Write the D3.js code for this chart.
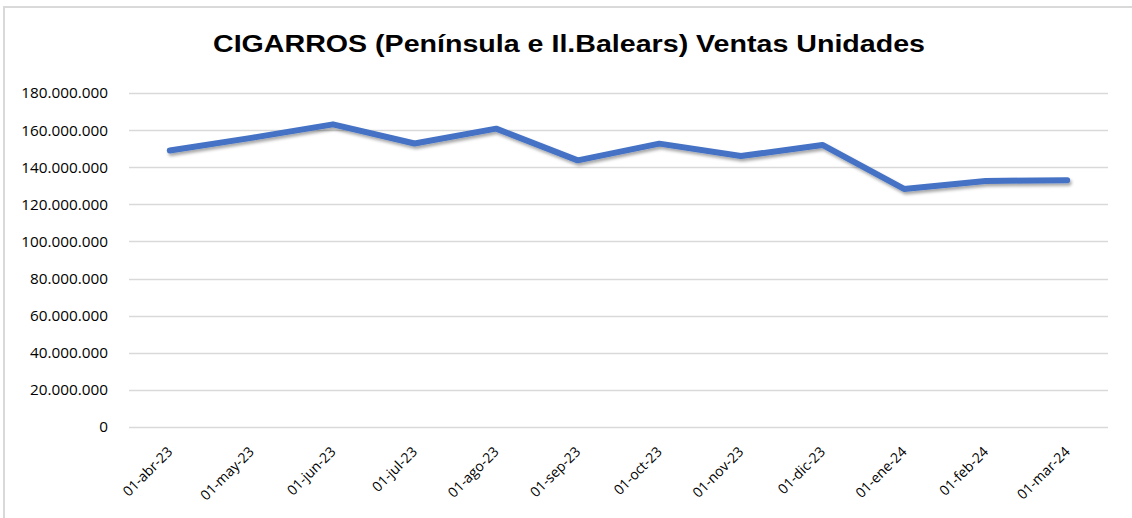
<!DOCTYPE html>
<html>
<head>
<meta charset="utf-8">
<script src="https://cdn.jsdelivr.net/npm/d3@7/dist/d3.min.js"></script>
<style>
  body { margin: 0; background: #fff; }
  svg { display: block; }
</style>
</head>
<body>
<div id="chart"></div>
<script>
// datos
var fechas = ["01-abr-23", "01-may-23", "01-jun-23", "01-jul-23", "01-ago-23", "01-sep-23",
              "01-oct-23", "01-nov-23", "01-dic-23", "01-ene-24", "01-feb-24", "01-mar-24"];
var ventas = [149000000, 155800000, 163100000, 152800000, 160800000, 143700000,
              152700000, 146000000, 152000000, 128300000, 132600000, 133000000];
var ticksY = [0, 20000000, 40000000, 60000000, 80000000, 100000000,
              120000000, 140000000, 160000000, 180000000];
var titulo = "CIGARROS (Península e Il.Balears) Ventas Unidades";

var width = 1132;
var height = 518;
var margin = {top: 93, right: 24, bottom: 91, left: 129};

var svg = d3.select("#chart")
            .append("svg")
            .attr("width", width)
            .attr("height", height);

var defs = svg.append("defs");
var filtro = defs.append("filter")
                 .attr("id", "sombra")
                 .attr("x", "-5%").attr("y", "-50%")
                 .attr("width", "110%").attr("height", "200%");
filtro.append("feDropShadow")
      .attr("dx", 1.5).attr("dy", 2.5)
      .attr("stdDeviation", 1.8)
      .attr("flood-color", "#000")
      .attr("flood-opacity", 0.35);

// borde del area del grafico
svg.append("rect")
   .attr("x", 4).attr("y", 7)
   .attr("width", width + 10).attr("height", height + 10)
   .attr("fill", "none")
   .attr("stroke", "#d9d9d9")
   .attr("stroke-width", 2);

var x = d3.scaleBand()
          .domain(fechas)
          .range([margin.left, width - margin.right]);

var y = d3.scaleLinear()
          .domain([0, 180000000])
          .range([height - margin.bottom, margin.top]);

var fmt = function(v) {
    return d3.format(",")(v).replace(/,/g, ".");
};

// lineas de cuadricula
svg.append("g")
   .selectAll("line")
   .data(ticksY)
   .enter()
   .append("line")
   .attr("x1", margin.left)
   .attr("x2", width - margin.right)
   .attr("y1", d => Math.round(y(d)) + 0.5)
   .attr("y2", d => Math.round(y(d)) + 0.5)
   .attr("stroke", "#d9d9d9")
   .attr("stroke-width", 1.3);

// eje Y
var ejeY = svg.append("g")
              .attr("transform", `translate(${margin.left},0)`)
              .call(d3.axisLeft(y).tickValues(ticksY).tickFormat(fmt).tickSize(0).tickPadding(21));
ejeY.select(".domain").remove();
ejeY.selectAll("text")
    .style("font-family", "'Open Sans', 'Noto Sans', sans-serif")
    .style("font-size", "15.3px")
    .attr("fill", "#000");

// eje X
var ejeX = svg.append("g")
              .attr("transform", `translate(0,${height - margin.bottom})`)
              .call(d3.axisBottom(x).tickSize(0));
ejeX.select(".domain").remove();
ejeX.selectAll("text")
    .style("font-family", "'Open Sans', 'Noto Sans', sans-serif")
    .style("font-size", "14px")
    .attr("fill", "#000")
    .attr("text-anchor", "end")
    .attr("dy", "0.35em")
    .attr("transform", "translate(-2,20) rotate(-45)");

// linea de ventas
var linea = d3.line()
              .x((d, i) => x(fechas[i]) + x.bandwidth() / 2)
              .y(d => y(d));

svg.append("path")
   .datum(ventas)
   .attr("d", linea)
   .attr("fill", "none")
   .attr("stroke", "#4472c4")
   .attr("stroke-width", 6)
   .attr("stroke-linejoin", "round")
   .attr("stroke-linecap", "round")
   .attr("filter", "url(#sombra)");

// titulo
svg.append("text")
   .attr("x", 569)
   .attr("y", 52)
   .attr("text-anchor", "middle")
   .attr("textLength", 712)
   .attr("lengthAdjust", "spacingAndGlyphs")
   .style("font-family", "'Liberation Sans', Arial, sans-serif")
   .style("font-weight", "bold")
   .style("font-size", "23px")
   .attr("fill", "#000")
   .text(titulo);
</script>
</body>
</html>
